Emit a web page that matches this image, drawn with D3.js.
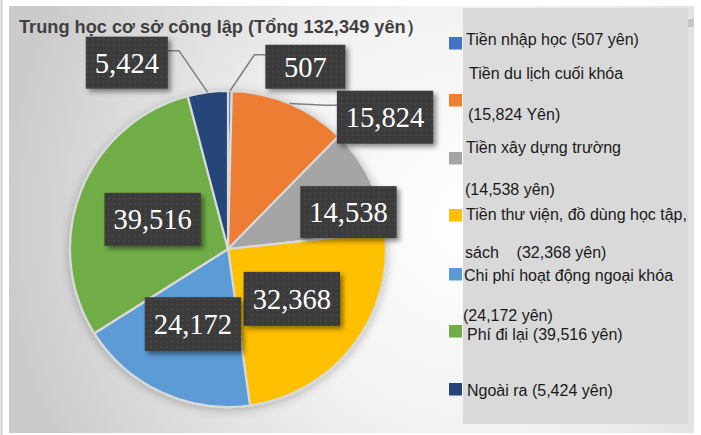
<!DOCTYPE html>
<html>
<head>
<meta charset="utf-8">
<script src="https://cdn.jsdelivr.net/npm/d3@7"></script>
<style>
  html, body { margin: 0; padding: 0; background: #fff; }
  svg { display: block; }
</style>
</head>
<body>
<div id="chart"></div>
<script>
// data
const categories = [
  "Tiền nhập học", "Tiền du lịch cuối khóa", "Tiền xây dựng trường",
  "Tiền thư viện, đồ dùng học tập, sách", "Chi phí hoạt động ngoại khóa",
  "Phí đi lại", "Ngoài ra"
];
const values = [507, 15824, 14538, 32368, 24172, 39516, 5424];
const colors = ["#4472c4", "#ed7d31", "#a5a5a5", "#ffc000", "#5b9bd5", "#70ad47", "#264478"];
const legendText = [
  ["Tiền nhập học (507 yên)"],
  ["Tiền du lịch cuối khóa", "(15,824 Yên)"],
  ["Tiền xây dựng trường", "(14,538 yên)"],
  ["Tiền thư viện, đồ dùng học tập,", "sách    (32,368 yên)"],
  ["Chi phí hoạt động ngoại khóa", "(24,172 yên)"],
  ["Phí đi lại (39,516 yên)"],
  ["Ngoài ra (5,424 yên)"]
];
const title = "Trung học cơ sở công lập (Tổng 132,349 yên）";

const W = 701, H = 435;
const cx = 228, cy = 249, R = 158;

const svg = d3.select("#chart").append("svg")
  .attr("width", W).attr("height", H);

const defs = svg.append("defs");

// nen gradient
const grad = defs.append("radialGradient").attr("id", "bg")
  .attr("gradientUnits", "userSpaceOnUse")
  .attr("cx", 470).attr("cy", 220).attr("r", 470);
grad.append("stop").attr("offset", "0%").attr("stop-color", "#ffffff");
grad.append("stop").attr("offset", "45%").attr("stop-color", "#f2f2f2");
grad.append("stop").attr("offset", "100%").attr("stop-color", "#cbcbcb");

// hoa van cham cho o nhan
const pat = defs.append("pattern").attr("id", "dots")
  .attr("width", 5.3).attr("height", 5.3).attr("patternUnits", "userSpaceOnUse");
pat.append("rect").attr("width", 5.3).attr("height", 5.3).attr("fill", "#3b3b3b");
pat.append("circle").attr("cx", 2.6).attr("cy", 2.6).attr("r", 0.9).attr("fill", "#4e4e4e");

const sh = defs.append("filter").attr("id", "shadow")
  .attr("x", "-20%").attr("y", "-20%").attr("width", "150%").attr("height", "150%");
sh.append("feDropShadow").attr("dx", 3).attr("dy", 3).attr("stdDeviation", 2.5)
  .attr("flood-color", "#000").attr("flood-opacity", 0.45);

const psh = defs.append("filter").attr("id", "pieShadow")
  .attr("x", "-20%").attr("y", "-20%").attr("width", "140%").attr("height", "140%");
psh.append("feDropShadow").attr("dx", 0).attr("dy", 2).attr("stdDeviation", 5)
  .attr("flood-color", "#000").attr("flood-opacity", 0.25);

// khung
svg.append("line").attr("x1", 1.5).attr("x2", 1.5).attr("y1", 0).attr("y2", H)
  .attr("stroke", "#cfcfcf").attr("stroke-width", 2);
svg.append("rect").attr("x", 9).attr("y", 6).attr("width", 685).attr("height", 427)
  .attr("fill", "url(#bg)");

// tieu de
svg.append("text")
  .attr("x", 19).attr("y", 33)
  .attr("font-family", "Liberation Sans, Arial, sans-serif")
  .attr("font-size", 18.2).attr("font-weight", "bold")
  .attr("fill", "#404040")
  .text(title);

// pie
const pie = d3.pie().sort(null).value(d => d);
const arcs = pie(values);
const arc = d3.arc().innerRadius(0).outerRadius(R);

const g = svg.append("g").attr("transform", `translate(${cx},${cy})`);
g.append("g").attr("filter", "url(#pieShadow)")
  .selectAll("path").data(arcs).join("path")
  .attr("d", arc)
  .attr("fill", (d, i) => colors[i])
  .attr("stroke", "#d9d9d9").attr("stroke-width", 2.2)
  .attr("stroke-linejoin", "round");

// vi tri nhan: goc (do) va khoang cach tu tam
const labelPos = [
  { ang: 23, dist: 198, h: 44, side: "left" },
  { ang: 50, dist: 205, h: 53, side: "left" },
  { ang: 73, dist: 126, h: 52 },
  { ang: 128, dist: 81, h: 54 },
  { ang: 205, dist: 83, h: 54 },
  { ang: 291.5, dist: 81, h: 53 },
  { ang: 331.5, dist: 212, h: 52, side: "right" }
];

const fmt = d3.format(",");
const labels = svg.append("g");

arcs.forEach((d, i) => {
  const p = labelPos[i];
  const a = p.ang * Math.PI / 180;
  const lx = cx + p.dist * Math.sin(a);
  const ly = cy - p.dist * Math.cos(a);
  const txt = fmt(values[i]);

  const t = labels.append("text")
    .attr("font-family", "Liberation Serif, Times New Roman, serif")
    .attr("font-size", 28.5)
    .attr("fill", "#ffffff")
    .attr("text-anchor", "middle")
    .attr("x", lx).attr("y", ly + 10)
    .text(txt);
  const tw = t.node().getComputedTextLength();
  const bw = Math.max(tw + 18, 80);
  const bh = p.h;

  // duong dan
  if (p.side) {
    const mid = (d.startAngle + d.endAngle) / 2;
    const ex = cx + R * Math.sin(mid), ey = cy - R * Math.cos(mid);
    const ax = p.side === "left" ? lx - bw / 2 : lx + bw / 2;
    const ay = ly - 12;
    const kx = p.side === "left" ? ax - 11 : ax + 11;
    labels.insert("polyline", "text")
      .attr("points", `${ex},${ey} ${kx},${ay} ${ax},${ay}`)
      .attr("fill", "none").attr("stroke", "#7f7f7f").attr("stroke-width", 1.5);
  }

  labels.insert("rect", "text")
    .attr("x", lx - bw / 2).attr("y", ly - bh / 2)
    .attr("width", bw).attr("height", bh)
    .attr("fill", "url(#dots)")
    .attr("filter", "url(#shadow)");
  t.raise();
});

// chu giai
svg.append("rect").attr("x", 463).attr("y", 8).attr("width", 225).attr("height", 416)
  .attr("fill", "#d9d9d9");
svg.append("rect").attr("x", 688).attr("y", 8).attr("width", 6).attr("height", 416)
  .attr("fill", "#e3e3e3");
svg.append("rect").attr("x", 688).attr("y", 19).attr("width", 6).attr("height", 8)
  .attr("fill", "#c4c4c4");

const legendLayout = [
  { sy: 37, x: 466, ys: [45] },
  { sy: 94, x: 469, ys: [79, 120] },
  { sy: 152, x: 466, ys: [153, 195] },
  { sy: 209, x: 466, ys: [220, 258] },
  { sy: 268, x: 464, ys: [281, 321] },
  { sy: 325, x: 467, ys: [340] },
  { sy: 383, x: 467, ys: [396] }
];

const legend = svg.append("g");
categories.forEach((c, i) => {
  const L = legendLayout[i];
  legend.append("rect")
    .attr("x", 449).attr("y", L.sy).attr("width", 13).attr("height", 12.5)
    .attr("fill", colors[i]);
  legendText[i].forEach((line, j) => {
    legend.append("text")
      .attr("x", j === 0 ? L.x : L.x - 1).attr("y", L.ys[j])
      .attr("font-family", "Liberation Sans, Arial, sans-serif")
      .attr("font-size", 16)
      .attr("fill", "#1a1a1a")
      .attr("xml:space", "preserve")
      .style("white-space", "pre")
      .text(line);
  });
});
</script>
</body>
</html>
